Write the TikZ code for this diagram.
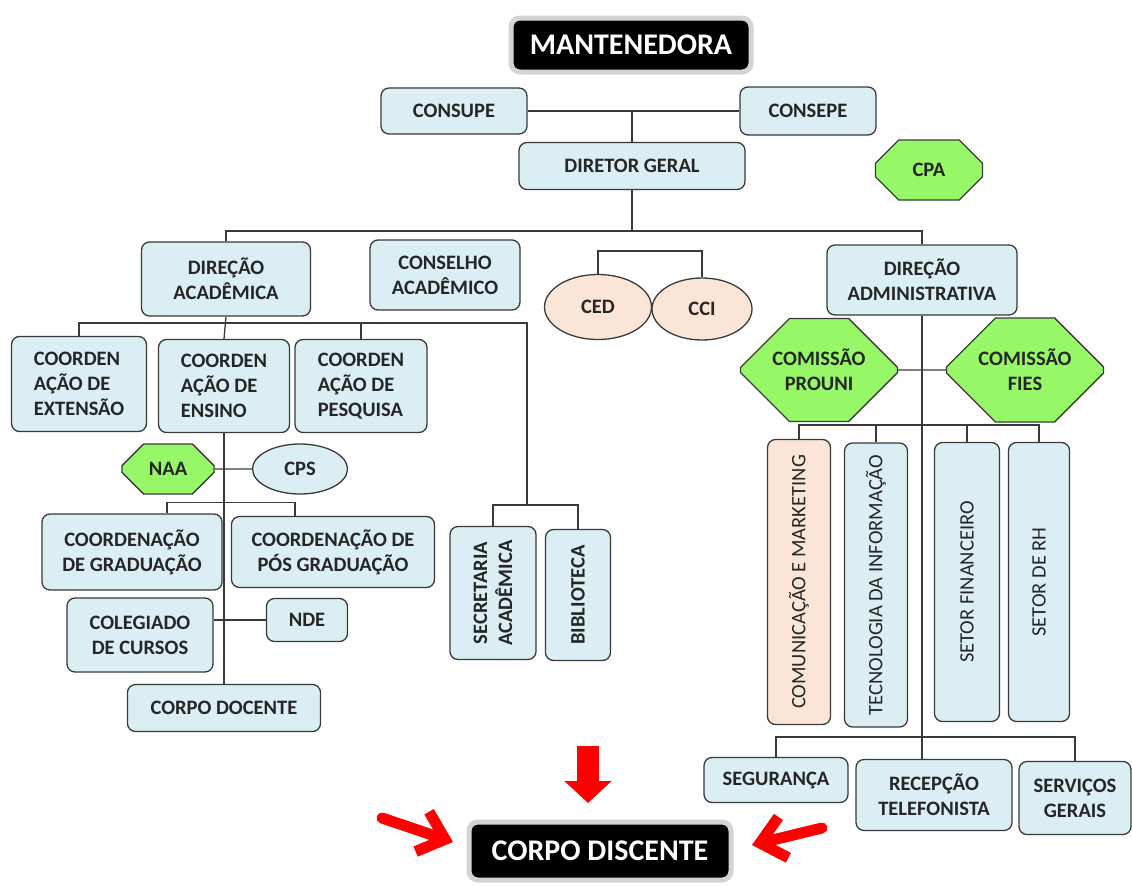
\documentclass[tikz,border=0pt]{standalone}
\usepackage{fontspec}
\setmainfont{Carlito}
\usetikzlibrary{arrows.meta}
\usetikzlibrary{shapes.geometric}
\usetikzlibrary{shapes.misc}
\definecolor{mblue}{HTML}{DAEEF3}
\definecolor{mpeach}{HTML}{FBE5D6}
\definecolor{mgreen}{HTML}{96F866}
\definecolor{mline}{HTML}{3A3A3A}
\definecolor{mtext}{HTML}{262626}
\tikzset{box/.style = {draw=mline, line width=1.3, rounded corners=8, fill=mblue, text=mtext,
    inner sep=0, align=center, font=\fontsize{20.5}{25}\selectfont\bfseries}}
\tikzset{vbox/.style = {box, rotate=90}}
\tikzset{vtext/.style = {font=\fontsize{20.5}{25}\selectfont}}
\tikzset{oval/.style = {box, ellipse, rounded corners=0}}
\tikzset{octo/.style = {box, chamfered rectangle, rounded corners=0, fill=mgreen,
    chamfered rectangle xsep=#1, chamfered rectangle ysep=#1}}
\tikzset{topbox/.style = {draw=black!17, line width=5, rounded corners=9, fill=black, text=white,
    inner sep=0, font=\fontsize{30}{35}\selectfont\bfseries}}
\tikzset{wh/.style 2 args = {minimum width=#1, minimum height=#2}}
\tikzset{link/.style = {draw=mline, line width=1.3}}
\tikzset{bigarrow/.style = {red, line width=22, -{Triangle[length=22pt, width=46pt]}}}
\tikzset{barb/.style = {red, line width=11, line cap=round, line join=round,
    -{Straight Barb[length=24pt, width=42pt]}}}

\begin{document}
\begin{tikzpicture}[x=1pt, y=-1pt]
  \useasboundingbox (0, 0) rectangle (1132, 886);

  % top
  \node [topbox, wh={240}{54}] (mant) at (631, 45) {MANTENEDORA};
  \node [box, wh={146}{46}] (consupe) at (454, 111) {CONSUPE};
  \node [box, wh={136}{48}] (consepe) at (808, 111) {CONSEPE};
  \node [box, wh={226}{47}] (diretor) at (632, 166) {DIRETOR GERAL};
  \node [octo=18pt, wh={107}{60}] (cpa) at (929, 170) {CPA};

  \draw [link] (consupe.east) -- (consepe.west);
  \draw [link] (diretor.north) -- (diretor.north |- consupe.east);

  % second level
  \node [box, wh={169}{74}] (diracad) at (226, 279) {DIREÇÃO\\ACADÊMICA};
  \node [box, wh={150}{70}] (conselho) at (445, 275) {CONSELHO\\ACADÊMICO};
  \node [oval, fill=mpeach, wh={107}{65}] (ced) at (598, 307) {CED};
  \node [oval, fill=mpeach, wh={100}{62}] (cci) at (702, 309) {CCI};
  \node [box, wh={190}{70}] (diradm) at (922, 280) {DIREÇÃO\\ADMINISTRATIVA};

  \coordinate (topbus) at (632, 231);
  \draw [link] (diretor.south) -- (topbus);
  \draw [link] (diracad.north) |- (topbus) -| (diradm.north);
  \draw [link] (ced.north) -- ++(0, -23) -| (cci.north);

  % academic side
  \node [box, align=left, wh={135}{95}] (extensao) at (79, 384) {COORDEN\\AÇÃO DE\\EXTENSÃO};
  \node [box, align=left, wh={131}{93}] (ensino) at (224, 386) {COORDEN\\AÇÃO DE\\ENSINO};
  \node [box, align=left, wh={132}{93}] (pesquisa) at (361, 386) {COORDEN\\AÇÃO DE\\PESQUISA};

  \node [octo=15pt, wh={92}{50}] (naa) at (168, 469) {NAA};
  \node [oval, wh={95}{50}] (cps) at (300, 469) {CPS};

  \node [box, wh={180}{76}] (grad) at (132, 552) {COORDENAÇÃO\\DE GRADUAÇÃO};
  \node [box, wh={203}{71}] (posgrad) at (333, 552) {COORDENAÇÃO DE\\PÓS GRADUAÇÃO};
  \node [box, wh={146}{74}] (colegiado) at (140, 635) {COLEGIADO\\DE CURSOS};
  \node [box, wh={81}{43}] (nde) at (307, 620) {NDE};
  \node [box, wh={193}{47}] (docente) at (224, 708) {CORPO DOCENTE};

  \node [vbox, wh={133}{86}] (secretaria) at (493, 593) {SECRETARIA\\ACADÊMICA};
  \node [vbox, wh={131}{65}] (biblioteca) at (578, 595) {BIBLIOTECA};

  \coordinate (acbus) at (224, 323);
  \coordinate (secbus) at (527, 505);
  \draw [link] (diracad.south) -- (ensino.north);
  \draw [link] (extensao.north) |- (secbus |- acbus) -- (secbus);
  \draw [link] (pesquisa.north) -- (pesquisa.north |- acbus);
  \draw [link] (secretaria.east) |- (secbus) -| (biblioteca.east);
  \draw [link] (ensino.south) -- (docente.north);
  \draw [link] (naa) -- (cps);
  \draw [link] ([xshift=35]grad.north) -- ++(0, -11) -| ([xshift=-38]posgrad.north);
  \draw [link] (nde.west) -- (nde.west -| colegiado.east);

  % administrative side
  \node [octo=28pt, wh={157}{103}] (prouni) at (819, 370) {COMISSÃO\\PROUNI};
  \node [octo=28pt, wh={157}{104}] (fies) at (1025, 370) {COMISSÃO\\FIES};

  \node [vbox, vtext, fill=mpeach, wh={285}{63}] (comunic) at (799, 582) {COMUNICAÇÃO E MARKETING};
  \node [vbox, vtext, wh={284}{63}] (tecno) at (876, 585) {TECNOLOGIA DA INFORMAÇÃO};
  \node [vbox, vtext, wh={279}{65}] (financ) at (967, 582) {SETOR FINANCEIRO};
  \node [vbox, vtext, wh={279}{61}] (rh) at (1039, 582) {SETOR DE RH};

  \node [box, wh={144}{45}] (seguranca) at (776, 780) {SEGURANÇA};
  \node [box, wh={156}{71}] (recepcao) at (934, 795) {RECEPÇÃO\\TELEFONISTA};
  \node [box, wh={112}{73}] (servicos) at (1075, 798) {SERVIÇOS\\GERAIS};

  \coordinate (admbus) at (922, 425);
  \coordinate (svcbus) at (922, 737);
  \draw [link] (diradm.south) -- (diradm.south |- recepcao.north);
  \draw [link] (prouni) -- (fies);
  \draw [link] (comunic.east) |- (admbus) -| (rh.east);
  \foreach \n in {tecno, financ}
    \draw [link] (\n.east) -- (\n.east |- admbus);
  \draw [link] (seguranca.north) |- (svcbus) -| (servicos.north);

  % bottom
  \node [topbox, wh={262}{58}] (discente) at (600, 851) {CORPO DISCENTE};

  \coordinate (downtail) at (588, 746);
  \coordinate (downtip) at (588, 803);
  \coordinate (lefttail) at (382, 818);
  \coordinate (lefttip) at (453, 842);
  \coordinate (righttail) at (822, 828);
  \coordinate (righttip) at (752, 845);
  \draw [bigarrow] (downtail) -- (downtip);
  \draw [barb] (lefttail) -- (lefttip);
  \draw [barb] (righttail) -- (righttip);
\end{tikzpicture}
\end{document}
